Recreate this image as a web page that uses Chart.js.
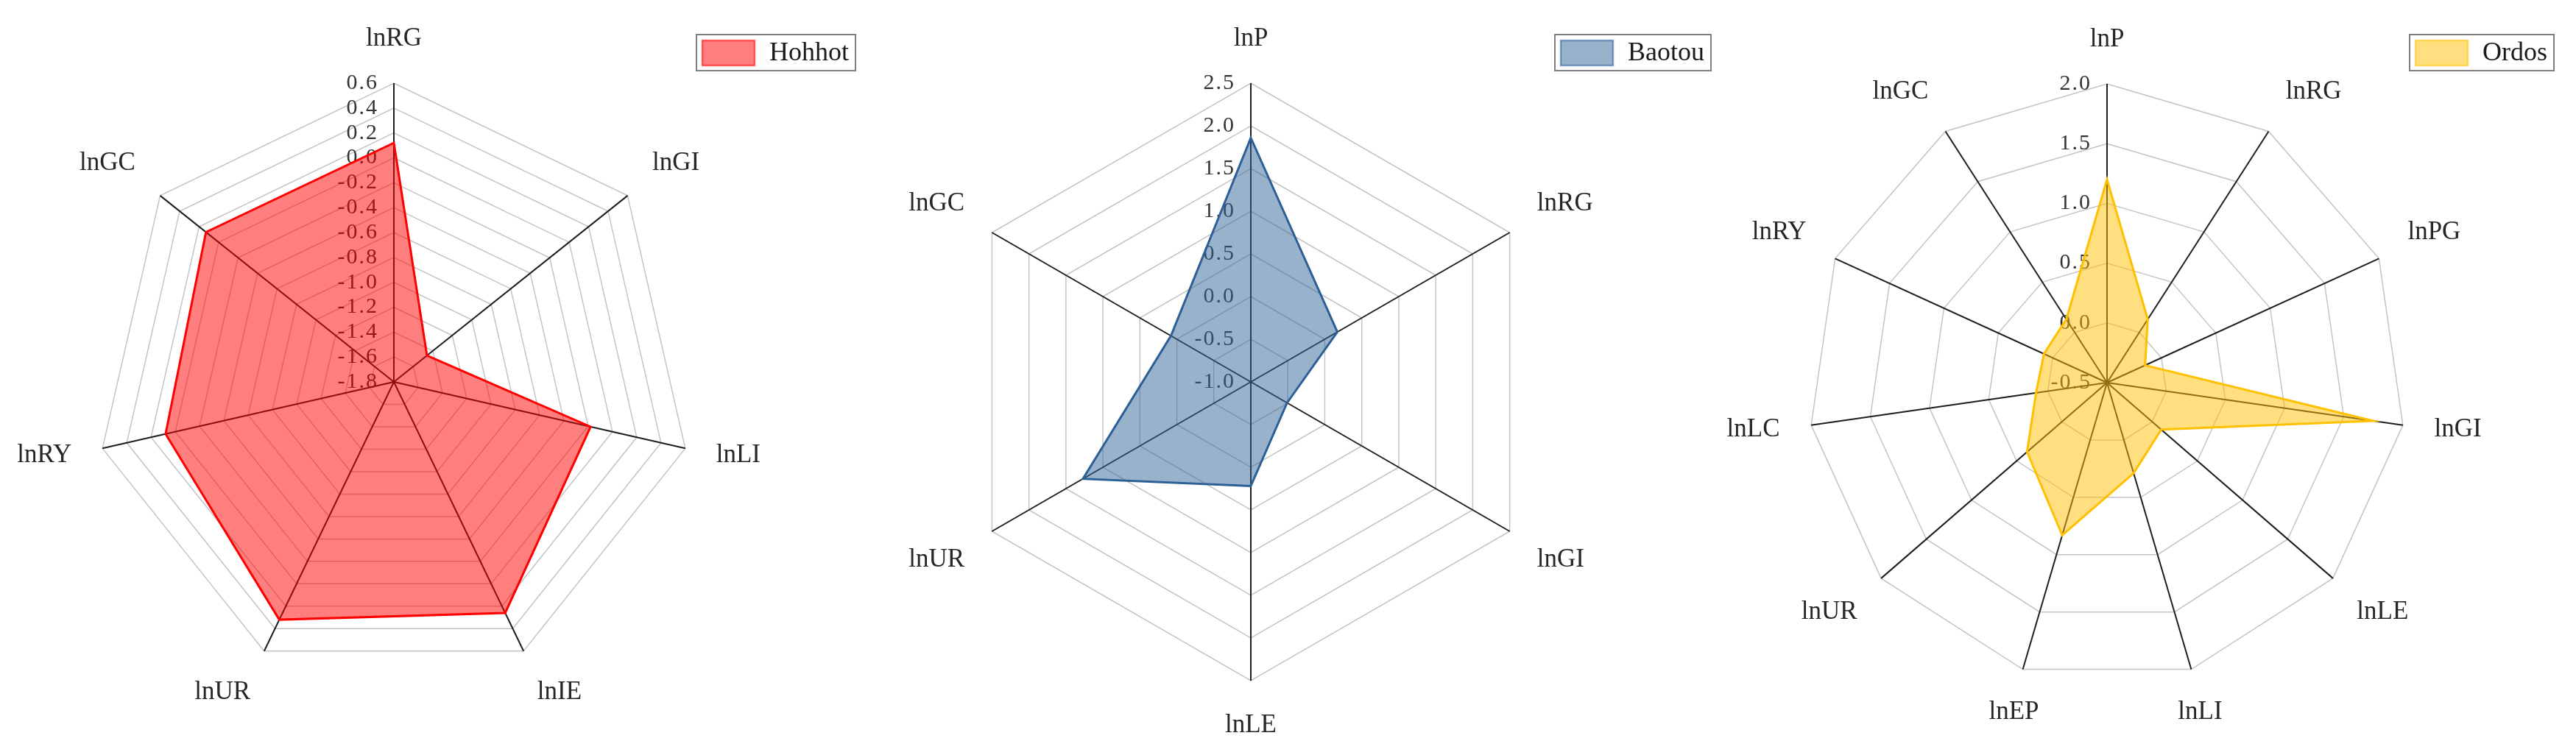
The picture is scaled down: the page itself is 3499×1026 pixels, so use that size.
<!DOCTYPE html>
<html><head><meta charset="utf-8">
<script src="https://cdn.jsdelivr.net/npm/chart.js@4.4.1/dist/chart.umd.min.js"></script>
<style>
html,body{margin:0;padding:0;background:#fff;}
#wrap{display:flex;width:3499px;height:1026px;}
canvas{display:block;}
</style></head><body>
<div id="wrap">
<canvas id="c1" width="1166" height="1026"></canvas>
<canvas id="c2" width="1166" height="1026"></canvas>
<canvas id="c3" width="1167" height="1026"></canvas>
</div>
<script>
// ---- data ----
const hohhotLabels = ['lnRG','lnGI','lnLI','lnIE','lnUR','lnRY','lnGC'];
const hohhotValues = [0.12, -1.46, -0.18, 0.26, 0.32, 0.08, 0.13];
const hohhotTicks  = [-1.8,-1.6,-1.4,-1.2,-1.0,-0.8,-0.6,-0.4,-0.2,0.0,0.2,0.4,0.6];

const baotouLabels = ['lnP','lnRG','lnGI','lnLE','lnUR','lnGC'];
const baotouValues = [1.86, 0.17, -0.51, 0.22, 1.27, 0.08];
const baotouTicks  = [-1.0,-0.5,0.0,0.5,1.0,1.5,2.0,2.5];

const ordosLabels = ['lnP','lnRG','lnPG','lnGI','lnLE','lnLI','lnEP','lnUR','lnLC','lnRY','lnGC'];
const ordosValues = [1.20, 0.13, -0.15, 1.75, 0.10, 0.29, 0.83, 0.385, 0.10, 0.08, 0.13];
const ordosTicks  = [-0.5,0.0,0.5,1.0,1.5,2.0];

const FONT = "'Liberation Serif', 'DejaVu Serif', serif";

function fmt(v){ const s = v.toFixed(1); return s === '-0.0' ? '0.0' : s; }

function makeChart(id, labels, values, ticks, name, fill, line, pad, legendX){
  const step = Math.round((ticks[1]-ticks[0])*1000)/1000;
  const decor = {
    id: 'decor_'+id,
    beforeDatasetsDraw(chart){
      const sc = chart.scales.r, ctx = chart.ctx;
      ctx.save();
      ctx.font = "30px " + FONT;
      if ('letterSpacing' in ctx) ctx.letterSpacing = '2px';
      ctx.fillStyle = '#333';
      ctx.textAlign = 'right';
      ctx.textBaseline = 'middle';
      ticks.forEach(v => {
        const d = sc.getDistanceFromCenterForValue(v);
        ctx.fillText(fmt(v), sc.xCenter - 21, sc.yCenter - d);
      });
      ctx.restore();
    },
    afterDraw(chart){
      const sc = chart.scales.r, ctx = chart.ctx;
      ctx.save();
      // point labels
      ctx.font = "35px " + FONT;
      ctx.fillStyle = '#262626';
      const dist = sc.drawingArea + 43;
      chart.data.labels.forEach((lab, i) => {
        const p = sc.getPointPosition(i, dist);
        const c = Math.cos(p.angle), s = Math.sin(p.angle);
        ctx.textAlign = Math.abs(c) < 0.35 ? 'center' : (c > 0 ? 'left' : 'right');
        ctx.textBaseline = Math.abs(s) < 0.3 ? 'middle' : (s > 0 ? 'top' : 'bottom');
        ctx.fillText(lab, p.x, p.y);
      });
      // legend
      const ds = chart.data.datasets[0];
      ctx.font = "36px " + FONT;
      const tw = ctx.measureText(ds.label).width;
      const x0 = legendX, y0 = 47, h = 49;
      const w = 7 + 72 + 20 + tw + 9;
      ctx.fillStyle = '#fff';
      ctx.fillRect(x0, y0, w, h);
      ctx.strokeStyle = '#7f7f7f';
      ctx.lineWidth = 2;
      ctx.strokeRect(x0, y0, w, h);
      ctx.fillStyle = ds.backgroundColor;
      ctx.fillRect(x0 + 8, y0 + 8, 71, 34);
      ctx.strokeStyle = ds.borderColor;
      ctx.globalAlpha = 0.55;
      ctx.lineWidth = 2.5;
      ctx.strokeRect(x0 + 8, y0 + 8, 71, 34);
      ctx.globalAlpha = 1;
      ctx.fillStyle = '#1a1a1a';
      ctx.textAlign = 'left';
      ctx.textBaseline = 'middle';
      ctx.fillText(ds.label, x0 + 99, y0 + h/2 + 1);
      ctx.restore();
    }
  };
  return new Chart(document.getElementById(id), {
    type: 'radar',
    data: {
      labels: labels,
      datasets: [{
        label: name,
        data: values,
        backgroundColor: fill,
        borderColor: line,
        borderWidth: 3,
        pointRadius: 0,
        pointHoverRadius: 0,
        tension: 0,
        fill: 'start'
      }]
    },
    options: {
      responsive: false,
      animation: false,
      layout: { padding: pad },
      plugins: { legend: { display: false }, tooltip: { enabled: false } },
      scales: {
        r: {
          min: ticks[0],
          max: ticks[ticks.length-1],
          beginAtZero: false,
          startAngle: 0,
          ticks: { display: false, stepSize: step, maxTicksLimit: 40 },
          pointLabels: { display: false },
          grid: { color: '#c4c4c4', lineWidth: 1.5 },
          angleLines: { color: '#1e1e1e', lineWidth: 2 }
        }
      }
    },
    plugins: [decor]
  });
}

makeChart('c1', hohhotLabels, hohhotValues, hohhotTicks, 'Hohhot',
  'rgba(255,0,0,0.5)', '#ff0000', {left:129, right:225, top:113, bottom:101}, 946);
makeChart('c2', baotouLabels, baotouValues, baotouTicks, 'Baotou',
  'rgba(51,102,153,0.5)', '#2c5f96', {left:127, right:227, top:113, bottom:101}, 946);
makeChart('c3', ordosLabels, ordosValues, ordosTicks, 'Ordos',
  'rgba(255,192,0,0.5)', '#ffc000', {left:124, right:231, top:114, bottom:100}, 941);
</script>
</body></html>
